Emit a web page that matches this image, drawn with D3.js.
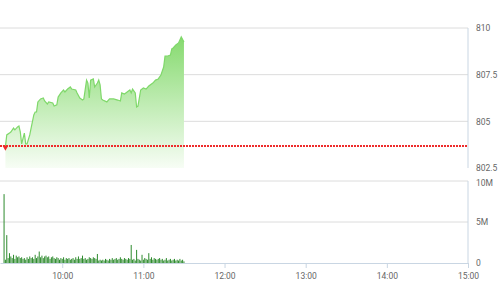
<!DOCTYPE html>
<html>
<head>
<meta charset="utf-8">
<script src="https://cdn.jsdelivr.net/npm/d3@7"></script>
<style>
  body { margin: 0; background: #fff; }
  text { font-family: Roboto, "Noto Sans", sans-serif; }
</style>
</head>
<body>
<div id="chart"></div>
<script>
// intraday index
var priceTimes = ["09:18","09:19","09:21","09:22","09:24","09:25","09:27","09:28","09:29","09:30",
  "09:32","09:33","09:34","09:36","09:37","09:39","09:40","09:41","09:42","09:44",
  "09:46","09:47","09:49","09:50","09:53","09:54","09:56","09:57","09:59","10:01",
  "10:02","10:04","10:06","10:07","10:10","10:11","10:13","10:15","10:16","10:18",
  "10:19","10:20","10:21","10:23","10:24","10:26","10:27","10:28","10:29","10:30",
  "10:33","10:35","10:38","10:41","10:43","10:44","10:46","10:48","10:50","10:51",
  "10:52","10:54","10:55","10:56","10:58","11:00","11:02","11:04","11:07","11:09",
  "11:11","11:13","11:15","11:16","11:18","11:20","11:21","11:22","11:24","11:26",
  "11:27","11:28","11:30"];
var prices = [803.63,804.27,804.37,804.43,804.64,804.54,804.70,804.75,804.43,803.79,
  804.37,803.79,803.79,804.27,804.64,805.34,805.50,805.50,806.04,806.20,
  806.25,806.09,805.93,806.04,805.98,805.82,805.88,806.30,806.52,806.68,
  806.57,806.73,806.84,806.73,806.68,806.52,806.25,806.14,806.20,807.21,
  807.05,806.25,807.21,807.27,806.84,807.05,807.21,806.95,806.20,806.14,
  806.04,806.20,806.20,806.14,806.09,806.52,806.46,806.57,806.68,806.52,
  806.73,806.52,805.77,805.82,806.68,806.79,806.73,806.89,807.05,807.21,
  807.27,807.48,807.91,808.50,808.50,808.55,808.88,808.93,809.09,809.20,
  809.36,809.52,809.25];
var refPrice = 803.7;

// volume per minute (millions) starting at volStart
var volStart = "09:17";
var volumes = [8.4,0.4,3.4,0.6,1.2,0.8,0.6,1.0,0.5,0.9,
  0.7,0.8,0.6,0.7,0.5,0.6,0.4,0.7,0.5,0.8,
  0.6,0.7,0.5,1.0,0.6,0.8,1.4,0.7,0.9,0.6,
  0.8,0.9,0.7,0.8,0.5,0.7,0.8,0.6,0.5,0.7,
  0.6,0.4,0.6,0.5,0.7,0.4,0.6,0.5,0.6,0.4,
  0.5,0.6,0.4,0.7,0.5,0.8,0.5,0.6,0.9,0.5,
  0.6,0.4,0.5,0.7,0.6,0.5,0.7,0.6,0.5,1.1,
  0.3,0.4,0.3,0.4,0.3,0.5,0.4,0.3,0.5,0.4,
  0.6,0.4,0.5,0.6,0.4,0.5,0.7,0.5,0.4,0.6,
  0.5,0.4,0.6,0.5,2.2,0.4,0.5,0.3,1.6,0.5,
  0.4,0.3,1.0,0.4,0.6,0.5,0.4,1.2,0.5,0.7,
  0.4,0.6,0.5,0.4,0.5,0.6,0.4,0.5,0.3,0.4,
  0.6,0.3,0.4,0.5,0.3,0.4,0.5,0.3,0.4,0.3,
  0.5,0.3,0.4,0.2];

var priceTicks = [802.5, 805, 807.5, 810];
var priceTickLabels = ["802.5", "805", "807.5", "810"];
var priceGrid = [805, 807.5, 810];
var volTicks = [0, 5, 10];
var volTickLabels = ["0", "5M", "10M"];
var timeTicks = ["10:00", "11:00", "12:00", "13:00", "14:00", "15:00"];

var width = 501, height = 300;
var plotLeft = 0, plotRight = 468;

var parse = d3.timeParse("%H:%M");

var svg = d3.select("#chart").append("svg")
    .attr("width", width)
    .attr("height", height);

var x = d3.scaleTime()
    .domain([parse("09:14"), parse("15:00")])
    .range([plotLeft, plotRight]);

var y = d3.scaleLinear()
    .domain([802.5, 810])
    .range([168, 28]);

var yv = d3.scaleLinear()
    .domain([0, 10])
    .range([263, 181]);

var priceData = priceTimes.map(function(t, i) {
    return { t: parse(t), v: prices[i] };
});
var t0 = parse(volStart);
var volData = volumes.map(function(v, i) {
    return { t: d3.timeMinute.offset(t0, i), v: v };
});

// gradient for area
var defs = svg.append("defs");
var grad = defs.append("linearGradient")
    .attr("id", "areaGrad")
    .attr("gradientUnits", "userSpaceOnUse")
    .attr("x1", 0).attr("x2", 0)
    .attr("y1", y(809.5)).attr("y2", y(802.5));
grad.append("stop").attr("offset", "0%").attr("stop-color", "#86da6f");
grad.append("stop").attr("offset", "100%").attr("stop-color", "#f7fdf5");

// price grid
svg.append("g")
    .selectAll("line")
    .data(priceGrid)
    .enter().append("line")
    .attr("x1", plotLeft).attr("x2", plotRight)
    .attr("y1", function(d) { return y(d); })
    .attr("y2", function(d) { return y(d); })
    .attr("stroke", "#dcdcdc")
    .attr("stroke-width", 1);

// area + line
var area = d3.area()
    .x(function(d) { return x(d.t); })
    .y0(y(802.5))
    .y1(function(d) { return y(d.v); });

var line = d3.line()
    .x(function(d) { return x(d.t); })
    .y(function(d) { return y(d.v); });

svg.append("path")
    .datum(priceData)
    .attr("d", area)
    .attr("fill", "url(#areaGrad)");

svg.append("path")
    .datum(priceData)
    .attr("d", line)
    .attr("fill", "none")
    .attr("stroke", "#7fd86a")
    .attr("stroke-width", 1.2);

// reference line (snapped to pixel grid so the dots stay crisp)
var refY = Math.round(y(refPrice));
svg.append("line")
    .attr("x1", plotLeft).attr("x2", plotRight)
    .attr("y1", refY).attr("y2", refY)
    .attr("stroke", "#ee2b2b")
    .attr("stroke-width", 2)
    .attr("stroke-dasharray", "2,1");

svg.append("path")
    .attr("d", d3.symbol().type(d3.symbolTriangle).size(14))
    .attr("transform", "translate(" + x(priceData[0].t) + "," + (refY + 1.5) + ") rotate(180)")
    .attr("fill", "#ee2b2b");

// volume grid
svg.append("g")
    .selectAll("line")
    .data(volTicks.slice(1))
    .enter().append("line")
    .attr("x1", plotLeft).attr("x2", plotRight)
    .attr("y1", function(d) { return yv(d); })
    .attr("y2", function(d) { return yv(d); })
    .attr("stroke", "#dcdcdc")
    .attr("stroke-width", 1);

// volume bars
svg.append("g")
    .selectAll("rect")
    .data(volData)
    .enter().append("rect")
    .attr("x", function(d) { return x(d.t) - 0.5; })
    .attr("width", 1)
    .attr("y", function(d) { return yv(d.v); })
    .attr("height", function(d) { return yv(0) - yv(d.v); })
    .attr("fill", "#2e8b2e");

// right borders
svg.append("line")
    .attr("x1", plotRight).attr("x2", plotRight)
    .attr("y1", y(810)).attr("y2", y(802.5))
    .attr("stroke", "#c9d6e3");
svg.append("line")
    .attr("x1", plotRight).attr("x2", plotRight)
    .attr("y1", yv(10)).attr("y2", yv(0))
    .attr("stroke", "#c9d6e3");

// time axis
var xAxis = d3.axisBottom(x)
    .tickValues(timeTicks.map(parse))
    .tickFormat(d3.timeFormat("%H:%M"))
    .tickSize(5)
    .tickSizeOuter(0);

var gx = svg.append("g")
    .attr("transform", "translate(0," + yv(0) + ")")
    .call(xAxis);
gx.select(".domain").attr("stroke", "#c9d6e3");
gx.selectAll(".tick line").attr("stroke", "#c9d6e3");
gx.selectAll(".tick text")
    .attr("fill", "#666")
    .attr("font-size", "8.5px")
    .attr("font-family", "Roboto, sans-serif")
    .attr("dy", "0.9em");

// right price labels
var pAxis = d3.axisRight(y)
    .tickValues(priceTicks)
    .tickFormat(function(d, i) { return priceTickLabels[i]; })
    .tickSize(0)
    .tickPadding(8);
var gp = svg.append("g")
    .attr("transform", "translate(" + plotRight + ",0)")
    .call(pAxis);
gp.select(".domain").remove();
gp.selectAll(".tick text")
    .attr("fill", "#666")
    .attr("font-size", "8.5px")
    .attr("font-family", "Roboto, sans-serif");

var vAxis = d3.axisRight(yv)
    .tickValues(volTicks)
    .tickFormat(function(d, i) { return volTickLabels[i]; })
    .tickSize(0)
    .tickPadding(8);
var gv = svg.append("g")
    .attr("transform", "translate(" + plotRight + ",0)")
    .call(vAxis);
gv.select(".domain").remove();
gv.selectAll(".tick text")
    .attr("fill", "#666")
    .attr("font-size", "8.5px")
    .attr("font-family", "Roboto, sans-serif");
gv.selectAll(".tick")
    .filter(function(d) { return d === 10; })
    .select("text")
    .attr("dy", "0.55em");
</script>
</body>
</html>
